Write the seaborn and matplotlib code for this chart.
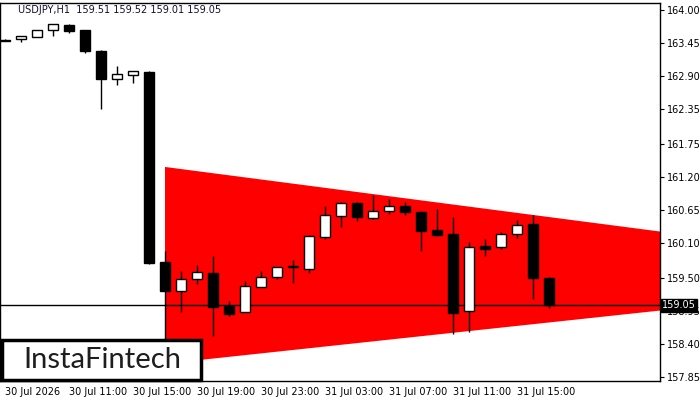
import matplotlib
matplotlib.use("Agg")
import matplotlib.pyplot as plt
import seaborn as sns
import pandas as pd
import numpy as np
from matplotlib.patches import Rectangle
from matplotlib.transforms import blended_transform_factory

# ---- data ----
times = ["30 Jul 07:00", "30 Jul 08:00", "30 Jul 09:00", "30 Jul 10:00", "30 Jul 11:00",
         "30 Jul 12:00", "30 Jul 13:00", "30 Jul 14:00", "30 Jul 15:00", "30 Jul 16:00",
         "30 Jul 17:00", "30 Jul 18:00", "30 Jul 19:00", "30 Jul 20:00", "30 Jul 21:00",
         "30 Jul 22:00", "30 Jul 23:00", "31 Jul 00:00", "31 Jul 01:00", "31 Jul 02:00",
         "31 Jul 03:00", "31 Jul 04:00", "31 Jul 05:00", "31 Jul 06:00", "31 Jul 07:00",
         "31 Jul 08:00", "31 Jul 09:00", "31 Jul 10:00", "31 Jul 11:00", "31 Jul 12:00",
         "31 Jul 13:00", "31 Jul 14:00", "31 Jul 15:00", "31 Jul 16:00", "31 Jul 17:00"]
opens  = [163.50, 163.51, 163.55, 163.66, 163.75, 163.66, 163.31, 162.84, 162.91, 162.96,
          159.78, 159.29, 159.49, 159.59, 159.04, 158.94, 159.36, 159.53, 159.69, 159.66,
          160.20, 160.55, 160.77, 160.51, 160.63, 160.72, 160.61, 160.31, 160.25, 158.96,
          160.04, 160.03, 160.25, 160.41, 159.51]
highs  = [163.51, 163.56, 163.66, 163.77, 163.76, 163.66, 163.33, 163.06, 162.98, 162.98,
          159.96, 159.63, 159.73, 159.88, 159.12, 159.46, 159.63, 159.70, 159.81, 160.23,
          160.72, 160.78, 160.78, 160.90, 160.83, 160.78, 160.63, 160.66, 160.53, 160.11,
          160.16, 160.28, 160.48, 160.56, 159.52]
lows   = [163.48, 163.46, 163.55, 163.56, 163.61, 163.28, 162.34, 162.74, 162.78, 159.75,
          158.47, 158.94, 159.41, 158.54, 158.87, 158.93, 159.35, 159.49, 159.42, 159.59,
          160.16, 160.36, 160.46, 160.50, 160.58, 160.56, 159.96, 160.22, 158.57, 158.60,
          159.88, 159.99, 160.18, 159.16, 159.01]
closes = [163.49, 163.56, 163.66, 163.77, 163.65, 163.31, 162.84, 162.93, 162.98, 159.76,
          159.29, 159.49, 159.61, 159.02, 158.91, 159.37, 159.53, 159.69, 159.70, 160.21,
          160.56, 160.77, 160.53, 160.63, 160.72, 160.61, 160.30, 160.23, 158.92, 160.03,
          159.99, 160.25, 160.40, 159.51, 159.05]

tick_idx = [0, 4, 8, 12, 16, 20, 24, 28, 32]
tick_labels = ["30 Jul 2026", "30 Jul 11:00", "30 Jul 15:00", "30 Jul 19:00", "30 Jul 23:00",
               "31 Jul 03:00", "31 Jul 07:00", "31 Jul 11:00", "31 Jul 15:00"]
y_ticks = [164.00, 163.45, 162.90, 162.35, 161.75, 161.20, 160.65, 160.10, 159.50, 158.95,
           158.40, 157.85]

# triangle pattern (bar index, price)
tri_x = [10, 61.7, 10]
tri_y = [161.37, 159.56, 158.07]

last_price = 159.05
header = "USDJPY,H1  159.51 159.52 159.01 159.05"

df = pd.DataFrame({"t": times, "open": opens, "high": highs, "low": lows, "close": closes})
df["i"] = np.arange(len(df))
df["up"] = df["close"] >= df["open"]

# ---- plot ----
sns.set_style("white")
plt.rcParams["font.family"] = ["DejaVu Sans"]
fig = plt.figure(figsize=(7, 4), dpi=100)
ax = fig.add_axes([0.0, 0.0475, 0.943, 0.945])

ax.fill(tri_x, tri_y, color="#ff0000", lw=0, zorder=1)
ax.axhline(last_price, color="black", lw=1, zorder=2)

# wicks
ax.vlines(df["i"], df["low"], df["high"], color="black", lw=1, zorder=3)
# bodies
w = 0.66
body_bottom = np.minimum(df["open"], df["close"])
body_h = np.maximum(np.abs(df["close"] - df["open"]), 0.012)
colors = ["white" if u else "black" for u in df["up"]]
ax.bar(df["i"], body_h, bottom=body_bottom, width=w, color=colors,
       edgecolor="black", linewidth=1, zorder=4)

ax.set_xlim(-0.3125, 40.94)
ax.set_ylim(157.78, 164.12)

ax.yaxis.tick_right()
ax.set_yticks(y_ticks)
ax.set_yticklabels([f"{v:.2f}" for v in y_ticks], fontsize=7)
ax.set_xticks(tick_idx)
ax.set_xticklabels(tick_labels, fontsize=7, ha="left")
ax.tick_params(axis="both", direction="out", length=3, width=0.8, colors="black", pad=2)
ax.tick_params(axis="x", pad=1)
for s in ax.spines.values():
    s.set_visible(True)
    s.set_color("black")
    s.set_linewidth(1)

# last price tag
trans = blended_transform_factory(ax.transAxes, ax.transData)
ax.text(1.003, last_price, f"{last_price:.2f}", transform=trans, fontsize=7, color="white",
        va="center", ha="left", zorder=10, clip_on=False,
        bbox=dict(boxstyle="square,pad=0.15", fc="black", ec="black"))

# header
fig.text(18 / 700, 1 - 10 / 400, header, fontsize=7, color="#101030", va="center", ha="left")

# logo
fig.add_artist(Rectangle((2 / 700, 1 - 380 / 400), 199 / 700, 40 / 400, transform=fig.transFigure,
                         facecolor="white", edgecolor="black", lw=2.5, zorder=20))
fig.text(102 / 700, 1 - 360 / 400, "InstaFintech", fontsize=21, color="#1e1e1e", family="Lato",
         va="center", ha="center", zorder=21)

fig.savefig("out.png", dpi=100)
